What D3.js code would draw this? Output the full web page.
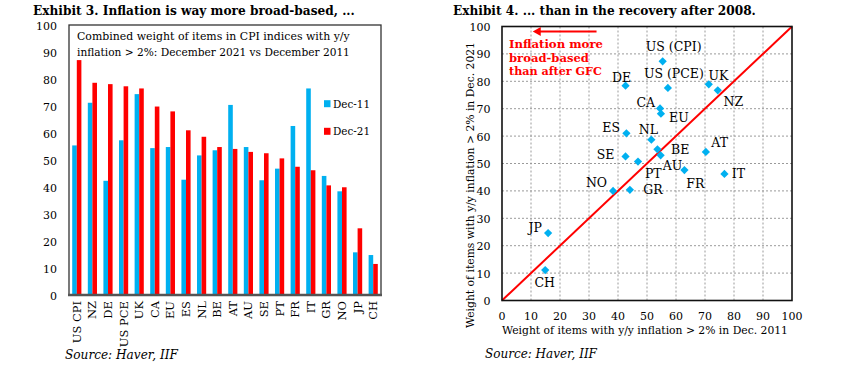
<!DOCTYPE html>
<html><head><meta charset="utf-8">
<script src="https://cdn.jsdelivr.net/npm/d3@7"></script>
<style>body{margin:0;background:#fff;} svg{display:block;}</style>
</head><body><svg id="c" width="848" height="366"></svg>
<script>
// ---------- data: Exhibit 3 (bars) ----------
const categories = ["US CPI","NZ","DE","US PCE","UK","CA","EU","ES","NL","BE","AT","AU","SE","PT","FR","IT","GR","NO","JP","CH"];
const dec11 = [55.4,71.2,42.3,57.3,74.4,54.4,54.8,42.7,51.7,53.6,70.4,54.8,42.5,46.8,62.6,76.5,44.1,38.4,15.8,14.8];
const dec21 = [87.0,78.6,78.1,77.3,76.5,69.8,68.0,61.0,58.6,54.8,54.1,53.0,52.5,50.6,47.5,46.2,40.6,39.9,24.7,11.5];
const seriesNames = ["Dec-11","Dec-21"];
const yTicks = [0,10,20,30,40,50,60,70,80,90,100];

// ---------- data: Exhibit 4 (scatter) ----------
const scLabels = ["US (CPI)","US (PCE)","DE","UK","NZ","CA","EU","ES","NL","BE","AU","SE","PT","AT","FR","IT","NO","GR","JP","CH"];
const scX = [55.4,57.2,42.6,71.3,74.4,54.5,54.8,42.9,51.5,53.6,54.7,42.6,46.9,70.3,62.9,76.7,38.3,44.1,15.9,14.9];
const scY = [87.3,77.6,78.4,78.9,76.7,70.1,68.2,61.0,58.7,55.2,53.0,52.6,50.7,54.2,47.6,46.2,40.0,40.4,24.6,11.1];
const xyTicks = [0,10,20,30,40,50,60,70,80,90,100];

// ---------- styling / layout ----------
const FONT = '"DejaVu Serif", "Liberation Serif", serif';
const BLUE = "#00B0F0", RED = "#FF0000";
const colors = {"Dec-11": BLUE, "Dec-21": RED};
const labelOffset = {
  "US (CPI)":[11,-14.6], "US (PCE)":[6,-14.7], "DE":[-4,-8.4], "UK":[9.6,-9], "NZ":[15.6,11.4],
  "CA":[-14.2,-6], "EU":[18,3.6], "ES":[-15.2,-6], "NL":[-3,-10.4], "BE":[22.8,0.7],
  "AU":[12,10.4], "SE":[-20,-1.6], "PT":[15.3,11.6], "AT":[13.8,-9.3], "FR":[11,13.3],
  "IT":[14,0], "NO":[-16.6,-8.3], "GR":[23,0], "JP":[-13,-5.3], "CH":[-0.5,12.3]
};

const svg = d3.select("#c").attr("font-family", FONT);
function fit(t, w){
  const l = t.node().getComputedTextLength();
  const fs = parseFloat(t.attr("font-size"));
  if (l > 0) t.attr("font-size", (fs * w / l).toFixed(2));
  return t;
}
function txt(x, y, s, size, opts = {}){
  const t = svg.append("text").attr("x", x).attr("y", y).text(s)
    .attr("font-size", size).attr("fill", opts.fill || "#000")
    .attr("dominant-baseline", "central")
    .attr("text-anchor", opts.anchor || "start");
  if (opts.bold) t.attr("font-weight", "bold");
  if (opts.italic) t.attr("font-style", "italic");
  if (opts.w) fit(t, opts.w);
  return t;
}

// ================= Left chart =================
const yL = d3.scaleLinear().domain([0,100]).range([295,25]);
const x0 = d3.scaleBand().domain(categories).range([69,381]);
const x1 = d3.scaleBand().domain(seriesNames).range([0, x0.bandwidth()]).paddingOuter(0.7);
const barData = categories.map((c,i) => ({cat:c, vals:[{s:"Dec-11", v:dec11[i]},{s:"Dec-21", v:dec21[i]}]}));

txt(33, 10.5, "Exhibit 3. Inflation is way more broad-based, ...", 13, {bold:true, w:322});

const g = svg.append("g");
g.selectAll("g.cat").data(barData).join("g").attr("class","cat")
  .attr("transform", d => `translate(${x0(d.cat)},0)`)
  .selectAll("rect").data(d => d.vals).join("rect")
  .attr("x", d => x1(d.s)).attr("width", x1.bandwidth())
  .attr("y", d => yL(d.v)).attr("height", d => yL(0) - yL(d.v))
  .attr("fill", d => colors[d.s]);

// frame
svg.append("rect").attr("x", 69).attr("y", yL(100)).attr("width", 312).attr("height", yL(0)-yL(100))
  .attr("fill","none").attr("stroke","#333").attr("stroke-width",1.3);
svg.append("line").attr("x1",68).attr("x2",382).attr("y1",yL(0)).attr("y2",yL(0))
  .attr("stroke","#555").attr("stroke-width",2.5);

// y tick labels
yTicks.forEach(v => txt(57, yL(v) + 1, String(v), 11, {anchor:"end"}));

// x labels rotated
categories.forEach(c => {
  svg.append("text").text(c).attr("font-size", 11.5)
    .attr("transform", `translate(${x0(c) + x0.bandwidth()/2},${301}) rotate(-90)`)
    .attr("text-anchor","end").attr("dominant-baseline","central");
});

// caption
txt(77, 36, "Combined weight of items in CPI indices with y/y", 12, {w:273});
txt(77, 52, "inflation > 2%: December 2021 vs December 2011", 12, {w:273});

// legend
seriesNames.forEach((s,i) => {
  const cy = 103.7 + i*27.6;
  svg.append("rect").attr("x",324).attr("y",cy-3.5).attr("width",6.5).attr("height",7).attr("fill",colors[s]);
  txt(333, cy, s, 12, {w:37});
});

txt(65, 355, "Source: Haver, IIF", 12, {italic:true, w:113});

// ================= Right chart =================
const xR = d3.scaleLinear().domain([0,100]).range([502,792]);
const yR = d3.scaleLinear().domain([0,100]).range([300.5,26.5]);

txt(453, 10.5, "Exhibit 4. ... than in the recovery after 2008.", 13, {bold:true, w:303});

// grid
const grid = svg.append("g").attr("stroke","#9a9a9a").attr("stroke-width",1).attr("stroke-dasharray","2,2");
xyTicks.filter(v => v>0 && v<100).forEach(v => {
  grid.append("line").attr("x1",xR(v)).attr("x2",xR(v)).attr("y1",yR(0)).attr("y2",yR(100));
  grid.append("line").attr("x1",xR(0)).attr("x2",xR(100)).attr("y1",yR(v)).attr("y2",yR(v));
});

// 45-degree line
svg.append("line").attr("x1",xR(0)).attr("y1",yR(0)).attr("x2",xR(100)).attr("y2",yR(100))
  .attr("stroke",RED).attr("stroke-width",2);

// frame
svg.append("rect").attr("x",xR(0)).attr("y",yR(100)).attr("width",xR(100)-xR(0)).attr("height",yR(0)-yR(100))
  .attr("fill","none").attr("stroke","#111").attr("stroke-width",1.6);

// ticks
xyTicks.forEach(v => {
  txt(490.5, yR(v) + 1, String(v), 11, {anchor:"end"});
  txt(xR(v), 316.5, String(v), 11, {anchor:"middle"});
});

// axis titles
txt(xR(50)-2, 330, "Weight of items with y/y inflation > 2% in Dec. 2011", 12, {anchor:"middle", w:286});
const yt = svg.append("text").text("Weight of items with y/y inflation > 2% in Dec. 2021")
  .attr("font-size",12).attr("text-anchor","middle").attr("dominant-baseline","central")
  .attr("transform", `translate(470,185) rotate(-90)`);
fit(yt, 286);

// points
const diamond = d3.symbol().type(d3.symbolSquare).size(34)();
scLabels.forEach((lab,i) => {
  const px = xR(scX[i]), py = yR(scY[i]);
  svg.append("path").attr("d", diamond).attr("fill", BLUE)
    .attr("transform", `translate(${px},${py}) rotate(45)`);
  const o = labelOffset[lab];
  txt(px + o[0], py + o[1], lab, 12.5, {anchor:"middle"});
});

// annotation arrow + text
const ay = yR(98.2);
svg.append("line").attr("x1", xR(32.6)).attr("x2", xR(10.6)+6).attr("y1", ay).attr("y2", ay)
  .attr("stroke", RED).attr("stroke-width", 2);
svg.append("path").attr("d", `M${xR(10.6)},${ay} l8,-4.5 l0,9 z`).attr("fill", RED);
txt(509, 44, "Inflation more", 12.5, {bold:true, fill:RED, w:94});
txt(509, 57.5, "broad-based", 12.5, {bold:true, fill:RED, w:80});
txt(509, 71.3, "than after GFC", 12.5, {bold:true, fill:RED, w:93});

txt(485, 354, "Source: Haver, IIF", 12, {italic:true, w:112});
</script></body></html>
